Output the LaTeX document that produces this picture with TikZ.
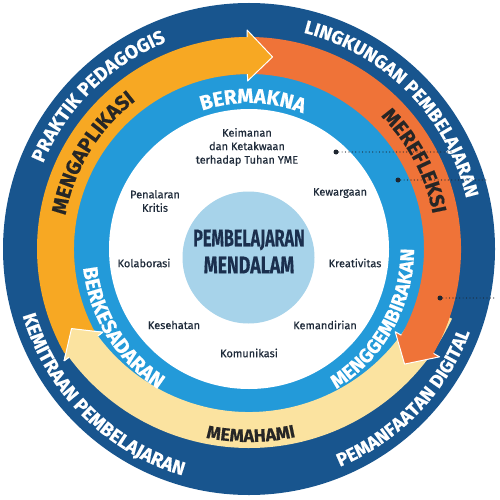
\documentclass[tikz,border=0pt]{standalone}
\usepackage{fontspec}
\usepackage{graphicx}
\setmainfont{Fira Sans}
\newfontfamily\labelface[FakeBold=0.4]{Fira Sans}
\newfontfamily\ringface[BoldFeatures={FakeBold=0.5}]{Fira Sans}
\usetikzlibrary{decorations.text}

\definecolor{ringdark}{HTML}{18558E}
\definecolor{ringlight}{HTML}{239AD9}
\definecolor{bandorange}{HTML}{F7A823}
\definecolor{bandred}{HTML}{EF7338}
\definecolor{bandyellow}{HTML}{FBE3A0}
\definecolor{corefill}{HTML}{A7D3EA}
\definecolor{coretext}{HTML}{1B2F4E}
\definecolor{labeltext}{HTML}{1F2B3A}
\definecolor{bandtext}{HTML}{262626}
\definecolor{dotcol}{HTML}{1E2630}

\newcommand{\ringfont}[1]{\ringface\fontsize{#1}{#1}\selectfont\bfseries}

% curved band arrow: colour, centre, inner r, outer r, start angle, head base angle, tip angle, wing
\newcommand{\bandarrow}[8]{%
  \pgfmathsetmacro{\bandmid}{(#3+#4)/2}%
  \pgfmathsetmacro{\bandlo}{#3-#8}%
  \pgfmathsetmacro{\bandhi}{#4+#8}%
  \fill[#1] ([shift={(#5:#3pt)}]#2) arc[start angle=#5, end angle=#6, radius=#3pt]
     -- ([shift={(#6:\bandlo pt)}]#2) -- ([shift={(#7:\bandmid pt)}]#2)
     -- ([shift={(#6:\bandhi pt)}]#2) -- ([shift={(#6:#4pt)}]#2)
     arc[start angle=#6, end angle=#5, radius=#4pt] -- cycle;
  \draw[headline] ([shift={(#6:#3pt)}]#2) -- ([shift={(#6:\bandlo pt)}]#2)
     -- ([shift={(#7:\bandmid pt)}]#2) -- ([shift={(#6:\bandhi pt)}]#2)
     -- ([shift={(#6:#4pt)}]#2);
}
% the head alone: colour, centre, inner r, outer r, head base angle, tip angle, wing
\newcommand{\bandhead}[7]{%
  \pgfmathsetmacro{\bandmid}{(#3+#4)/2}%
  \pgfmathsetmacro{\bandlo}{#3-#7}%
  \pgfmathsetmacro{\bandhi}{#4+#7}%
  \fill[#1] ([shift={(#5:\bandlo pt)}]#2) -- ([shift={(#6:\bandmid pt)}]#2)
     -- ([shift={(#5:\bandhi pt)}]#2) -- cycle;
  \draw[headline] ([shift={(#5:#3pt)}]#2) -- ([shift={(#5:\bandlo pt)}]#2)
     -- ([shift={(#6:\bandmid pt)}]#2) -- ([shift={(#5:\bandhi pt)}]#2)
     -- ([shift={(#5:#4pt)}]#2);
}

\tikzset{
  headline/.style={draw=white, line width=1pt, line join=round},
  labelnode/.style={font=\labelface\fontsize{11}{13.5}\selectfont, text=labeltext, align=center, inner sep=0pt},
  corenode/.style={font=\ringface\fontsize{24}{24}\selectfont\bfseries, text=coretext, inner sep=0pt},
  dotmark/.style={circle, fill=dotcol, inner sep=0pt, minimum size=5pt},
  leader/.style={draw=dotcol, line width=1.2pt, dash pattern=on 0pt off 3.4pt, line cap=round},
}

\begin{document}
\begin{tikzpicture}[x=1pt,y=1pt]
\useasboundingbox (0,0) rectangle (500,499);
\coordinate (O) at (249,250);
\coordinate (Y) at (249,275);

% rings
\fill[ringdark] (O) circle[radius=246pt];
\fill[ringlight] (O) circle[radius=178pt];
\fill[white] (O) circle[radius=140pt];

% cycle of arrows
\bandarrow{bandyellow}{Y}{188}{224}{-25}{-143.5}{-149.5}{6}
\bandarrow{bandred}{O}{175}{212}{100}{-29.5}{-36.5}{7}
\bandarrow{bandorange}{O}{175}{212}{209.5}{90.5}{83}{7}
\bandhead{bandyellow}{Y}{188}{224}{-143.5}{-149.5}{6}

% outer ring labels
\path[decorate, decoration={text along path, text align=center, text color=white,
  text={|\ringfont{19}|PRAKTIK PEDAGOGIS}}]
  ([shift={(174.6:223pt)}]O) arc[start angle=174.6, end angle=94.6, radius=223pt];
\path[decorate, decoration={text along path, text align=center, text color=white,
  text={|\ringfont{18.6}|LINGKUNGAN PEMBELAJARAN}}]
  ([shift={(89.5:223pt)}]O) arc[start angle=89.5, end angle=-0.5, radius=223pt];
\path[decorate, decoration={text along path, text align=center, text color=white,
  text={|\ringfont{19}|KEMITRAAN PEMBELAJARAN}}]
  ([shift={(185:236pt)}]O) arc[start angle=185, end angle=265, radius=236pt];
\path[decorate, decoration={text along path, text align=center, text color=white,
  text={|\ringfont{18.5}|PEMANFAATAN DIGITAL}}]
  ([shift={(-84:236pt)}]O) arc[start angle=-84, end angle=-4, radius=236pt];

% arrow labels
\path[decorate, decoration={text along path, text align=center, text color=bandtext,
  text={|\ringfont{20.5}|MENGAPLIKASI}}]
  ([shift={(188.5:186.5pt)}]O) arc[start angle=188.5, end angle=108.5, radius=186.5pt];
\path[decorate, decoration={text along path, text align=center, text color=bandtext,
  text={|\ringfont{20.5}|MEREFLEKSI}}]
  ([shift={(58:187pt)}]O) arc[start angle=58, end angle=-2, radius=187pt];
\path[decorate, decoration={text along path, text align=center, text color=bandtext,
  text={|\ringfont{18}|MEMAHAMI}}]
  ([shift={(245:218pt)}]Y) arc[start angle=245, end angle=296, radius=218pt];

% inner ring labels
\path[decorate, decoration={text along path, text align=center, text color=white,
  text={|\ringfont{20.5}|BERMAKNA}}]
  ([shift={(128.5:146pt)}]O) arc[start angle=128.5, end angle=48.5, radius=146pt];
\path[decorate, decoration={text along path, text align=center, text color=white,
  text={|\ringfont{20.5}|BERKESADARAN}}]
  ([shift={(176.8:167pt)}]O) arc[start angle=176.8, end angle=246.8, radius=167pt];
\path[decorate, decoration={text along path, text align=center, text color=white,
  text={|\ringfont{19.5}|MENGGEMBIRAKAN}}]
  ([shift={(-69:165pt)}]O) arc[start angle=-69, end angle=11, radius=165pt];

% core
\fill[corefill] (248.5,241.5) circle[radius=66pt];
\node[corenode] (core1) at (249,259) {\scalebox{0.67}[1]{PEMBELAJARAN}};
\node[corenode] (core2) at (249,234) {\scalebox{0.74}[1]{MENDALAM}};

% dimensions around the core
\node[labelnode] (iman) at (247,352) {Keimanan\\dan Ketakwaan\\terhadap Tuhan YME};
\node[labelnode] (nalar) at (155,298) {Penalaran\\Kritis};
\node[labelnode] (warga) at (340,306) {Kewargaan};
\node[labelnode] (kolab) at (144,236) {Kolaborasi};
\node[labelnode] (kreatif) at (355,236) {Kreativitas};
\node[labelnode] (sehat) at (174,174) {Kesehatan};
\node[labelnode] (mandiri) at (325,174) {Kemandirian};
\node[labelnode] (komun) at (249,146) {Komunikasi};

% leader dots
\node[dotmark] (d1) at (336,347) {};
\node[dotmark] (d2) at (398,319) {};
\node[dotmark] (d3) at (440,201) {};
\coordinate (e1) at (452,347);
\coordinate (e2) at (487,319);
\coordinate (e3) at (497,201);
\draw[leader] (d1) -- (e1);
\draw[leader] (d2) -- (e2);
\draw[leader] (d3) -- (e3);
\end{tikzpicture}
\end{document}
